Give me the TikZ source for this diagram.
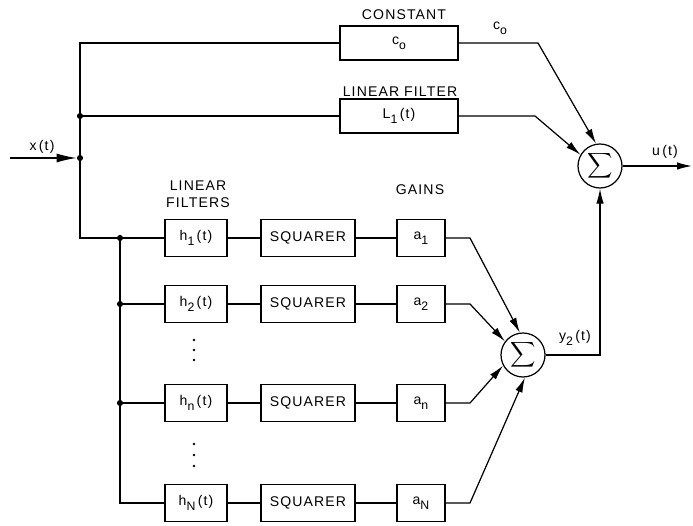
\documentclass[tikz,border=0pt]{standalone}
\usepackage{fontspec}
\setmainfont[LetterSpace=8]{Liberation Sans}
\usetikzlibrary{arrows.meta,positioning}
\tikzset{
  wire/.style     = {line width=0.7pt},
  sig/.style      = {line width=0.7pt, -{Latex[length=3mm,width=1.5mm]}},
  block/.style    = {draw, line width=0.7pt, minimum height=0.74cm, inner sep=1pt},
  sumnode/.style  = {circle, draw, line width=0.7pt, minimum size=0.88cm, inner sep=0pt},
  node dot/.style = {circle, fill=black, inner sep=0pt, minimum size=3.5pt},
  annot/.style    = {font=\footnotesize, align=center},
}
\newcommand{\lsub}[1]{\raisebox{-0.7ex}{\scriptsize #1}}

\begin{document}
\begin{tikzpicture}[every node/.style={font=\footnotesize}]
  \useasboundingbox (0,0) rectangle (13.86,10.5);

  % upper paths
  \node[block, minimum width=2.36cm, minimum height=0.68cm] (const) at (7.98,9.64) {c\lsub{o}};
  \node[block, minimum width=2.36cm, minimum height=0.68cm] (lin) at (7.98,8.18) {L\lsub{1}\,(t)};
  \node[annot] at (8.08,10.2) {CONSTANT};
  \node[annot] at (8.0,8.66) {LINEAR FILTER};
  \node[sumnode] (sum1) at (12.0,7.18) {$\displaystyle\sum$};

  % filter bank
  \node[annot] at (3.96,6.62) {LINEAR\\FILTERS};
  \node[annot] at (8.4,6.7) {GAINS};
  \node[block, minimum width=1.24cm] (h1) at (3.92,5.74) {h\lsub{1}\,(t)};
  \node[block, minimum width=1.88cm] (sq1) at (6.16,5.74) {SQUARER};
  \node[block, minimum width=0.96cm] (a1) at (8.42,5.74) {a\lsub{1}};
  \node[block, minimum width=1.24cm] (h2) at (3.92,4.42) {h\lsub{2}\,(t)};
  \node[block, minimum width=1.88cm] (sq2) at (6.16,4.42) {SQUARER};
  \node[block, minimum width=0.96cm] (a2) at (8.42,4.42) {a\lsub{2}};
  \node[block, minimum width=1.24cm] (hn) at (3.92,2.44) {h\lsub{n}\,(t)};
  \node[block, minimum width=1.88cm] (sqn) at (6.16,2.44) {SQUARER};
  \node[block, minimum width=0.96cm] (an) at (8.42,2.44) {a\lsub{n}};
  \node[block, minimum width=1.24cm] (hN) at (3.92,0.44) {h\lsub{N}\,(t)};
  \node[block, minimum width=1.88cm] (sqN) at (6.16,0.44) {SQUARER};
  \node[block, minimum width=0.96cm] (aN) at (8.42,0.44) {a\lsub{N}};
  \foreach \y in {3.7,3.5,3.3,1.62,1.4,1.18}
    \fill (3.88,\y) circle (0.8pt);
  \node[sumnode] (sum2) at (10.46,3.4) {$\displaystyle\sum$};

  % input and branching
  \coordinate (xin) at (0.2,7.34);
  \coordinate (top) at (1.6,9.64);
  \coordinate (corner) at (1.6,5.74);
  \coordinate (busend) at (2.4,0.44);
  \node[node dot] (j0) at (1.6,7.34) {};
  \node[node dot] (j1) at (1.6,8.18) {};
  \node[node dot] (j2) at (2.4,5.74) {};
  \node[node dot] (j3) at (2.4,4.42) {};
  \node[node dot] (j4) at (2.4,2.44) {};
  \node at (0.84,7.56) {x\,(t)};

  \draw[line width=0.7pt, -{Latex[length=4mm,width=1.8mm]}] (xin) -- (j0);
  \draw[wire] (const) -- (top) -- (corner) -- (h1);
  \draw[wire] (j1) -- (lin);
  \draw[wire] (j2) -- (busend) -- (hN);
  \draw[wire] (j3) -- (h2);
  \draw[wire] (j4) -- (hn);
  \draw[wire] (h1) -- (sq1) -- (a1);
  \draw[wire] (h2) -- (sq2) -- (a2);
  \draw[wire] (hn) -- (sqn) -- (an);
  \draw[wire] (hN) -- (sqN) -- (aN);

  % summing
  \coordinate (bendc) at (10.76,9.64);
  \coordinate (bendl) at (10.7,8.18);
  \coordinate (bendg) at (9.4,0);
  \coordinate (uout) at (13.84,7.18);
  \draw[sig] (const) -- (bendc) -- (sum1.100);
  \node at (10.0,9.94) {c\lsub{o}};
  \draw[sig] (lin) -- (bendl) -- (sum1.150);
  \draw[sig] (sum1) -- (uout);
  \node at (13.3,7.46) {u\,(t)};
  \draw[sig] (a1) -- (a1 -| bendg) -- (sum2.98);
  \draw[sig] (a2) -- (a2 -| bendg) -- (sum2.143);
  \draw[sig] (an) -- (an -| bendg) -- (sum2.208);
  \draw[sig] (aN) -- (aN -| bendg) -- (sum2.275);
  \draw[sig] (sum2) -| (sum1);
  \node at (11.5,3.74) {y\lsub{2}\,(t)};
\end{tikzpicture}
\end{document}
